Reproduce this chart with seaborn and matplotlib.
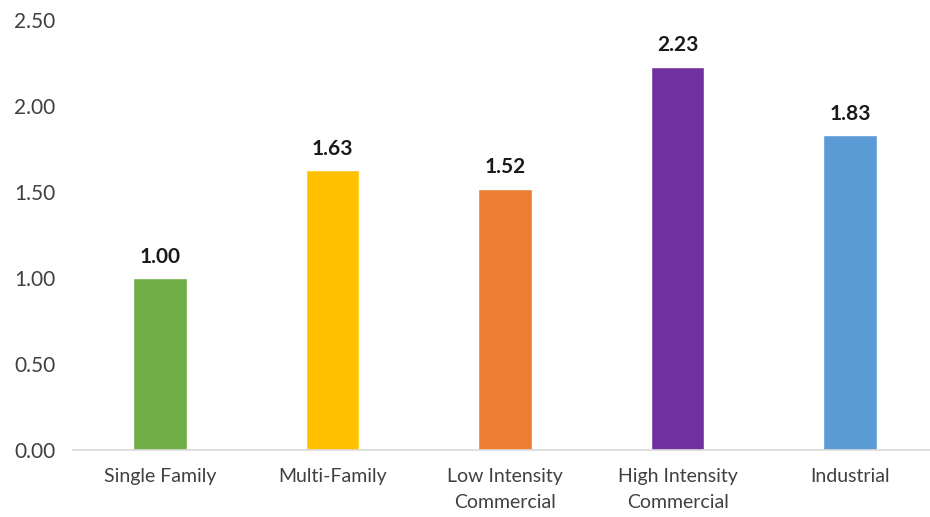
import matplotlib
matplotlib.use("Agg")
import matplotlib.pyplot as plt
import seaborn as sns
import pandas as pd

categories = ["Single Family", "Multi-Family", "Low Intensity\nCommercial",
              "High Intensity\nCommercial", "Industrial"]
values = [1.00, 1.63, 1.52, 2.23, 1.83]
colors = ["#70AD47", "#FFC000", "#ED7D31", "#7030A0", "#5B9BD5"]
yticks = [0.0, 0.5, 1.0, 1.5, 2.0, 2.5]

sns.set_theme(style="white")
plt.rcParams['font.family'] = ['Lato', 'DejaVu Sans']

df = pd.DataFrame({"cat": categories, "val": values})

fig = plt.figure(figsize=(9.3, 5.17), dpi=100)
ax = fig.add_axes([0.079, 0.13, 0.928, 0.831])
sns.barplot(data=df, x="cat", y="val", hue="cat", palette=colors,
            width=0.31, legend=False, ax=ax, saturation=1)

ax.set_ylim(0, 2.5)
ax.set_yticks(yticks)
ax.set_yticklabels([f"{t:.2f}" for t in yticks], fontsize=15, color="#404040")
ax.tick_params(axis="x", labelsize=14, colors="#404040", length=0, pad=13)
for lbl in ax.get_xticklabels():
    lbl.set_linespacing(1.65)
ax.tick_params(axis="y", length=0, pad=13)
ax.set_xlabel("")
ax.set_ylabel("")
for s in ["top", "right", "left"]:
    ax.spines[s].set_visible(False)
ax.spines["bottom"].set_color("#D9D9D9")
ax.spines["bottom"].set_linewidth(1.2)

for c in ax.containers:
    ax.bar_label(c, labels=[f"{v:.2f}" for v in c.datavalues], padding=8,
                 fontsize=15, fontweight="bold", color="#1a1a1a")

fig.savefig("out.png", dpi=100)
